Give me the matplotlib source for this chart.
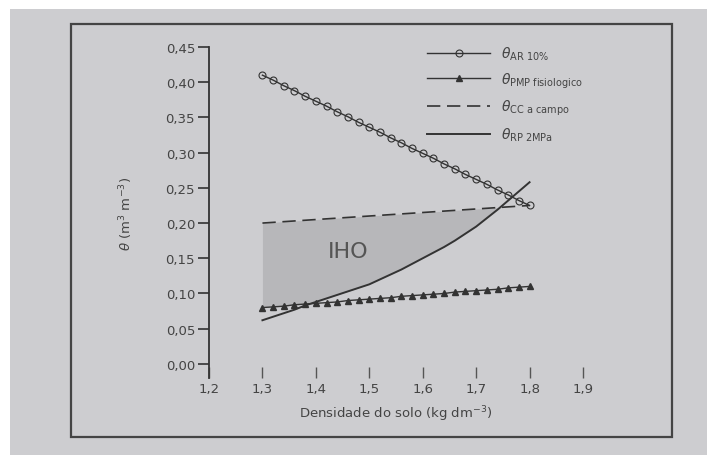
import numpy as np
import matplotlib
matplotlib.use('Agg')
import matplotlib.pyplot as plt
from matplotlib.patches import Rectangle

# soil bulk density (kg dm-3)
dens = [1.30, 1.32, 1.34, 1.36, 1.38, 1.40, 1.42, 1.44, 1.46, 1.48, 1.50, 1.52, 1.54,
        1.56, 1.58, 1.60, 1.62, 1.64, 1.66, 1.68, 1.70, 1.72, 1.74, 1.76, 1.78, 1.80]
# water content limits (m3 m-3)
ar10 = [0.410, 0.403, 0.395, 0.388, 0.380, 0.373, 0.366, 0.358, 0.351, 0.343, 0.336, 0.329, 0.321,
        0.314, 0.306, 0.299, 0.292, 0.284, 0.277, 0.269, 0.262, 0.255, 0.247, 0.240, 0.232, 0.225]
pmp = [0.080, 0.081, 0.082, 0.084, 0.085, 0.086, 0.087, 0.088, 0.090, 0.091, 0.092, 0.093, 0.094,
       0.096, 0.097, 0.098, 0.099, 0.100, 0.102, 0.103, 0.104, 0.105, 0.106, 0.108, 0.109, 0.110]
cc = [0.200, 0.201, 0.202, 0.203, 0.204, 0.205, 0.206, 0.207, 0.208, 0.209, 0.210, 0.211, 0.212,
      0.213, 0.214, 0.215, 0.216, 0.217, 0.218, 0.219, 0.220, 0.221, 0.222, 0.223, 0.224, 0.225]
rp = [0.062, 0.067, 0.072, 0.077, 0.083, 0.088, 0.093, 0.098, 0.103, 0.108, 0.113, 0.120, 0.127,
      0.134, 0.142, 0.150, 0.158, 0.166, 0.175, 0.185, 0.195, 0.207, 0.219, 0.232, 0.245, 0.258]

xticks = [1.2, 1.3, 1.4, 1.5, 1.6, 1.7, 1.8, 1.9]
xticklabels = ['1,2', '1,3', '1,4', '1,5', '1,6', '1,7', '1,8', '1,9']
yticks = [0.00, 0.05, 0.10, 0.15, 0.20, 0.25, 0.30, 0.35, 0.40, 0.45]
yticklabels = ['0,00', '0,05', '0,10', '0,15', '0,20', '0,25', '0,30', '0,35', '0,40', '0,45']

ink = '#333333'
paper = '#cdcdd0'

fig = plt.figure(figsize=(7.07, 4.56), dpi=100, facecolor='white')
# photo background and printed frame
fig.patches.append(Rectangle((10/707, 0), 1, 1 - 10/456, transform=fig.transFigure,
                             facecolor=paper, edgecolor='none', zorder=-10))
fig.patches.append(Rectangle((71/707, 1 - 438/456), (672-71)/707, (438-25)/456,
                             transform=fig.transFigure, facecolor='none',
                             edgecolor='#444444', lw=1.6, zorder=-5))

ax = fig.add_axes([209/707, 1 - 379/456, 374/707, (379-48)/456])
ax.set_facecolor('none')

lower = np.maximum(pmp, rp)
ax.fill_between(dens, lower, cc, where=np.array(cc) >= lower, interpolate=True,
                color='#b7b7ba', lw=0, zorder=1)

ax.plot(dens, ar10, color=ink, lw=1.0, marker='o', ms=5, mfc='none', mew=0.8,
        label=r'$\theta_{\mathrm{AR\ 10\%}}$', zorder=3)
ax.plot(dens, pmp, color=ink, lw=1.0, marker='^', ms=4.5, label=r'$\theta_{\mathrm{PMP\ fisiologico}}$', zorder=3)
ax.plot([dens[0], dens[-1]], [cc[0], cc[-1]], color=ink, lw=1.2, ls=(0, (8, 4)),
        label=r'$\theta_{\mathrm{CC\ a\ campo}}$', zorder=3)
ax.plot(dens, rp, color=ink, lw=1.4, label=r'$\theta_{\mathrm{RP\ 2MPa}}$', zorder=3)

ax.text(1.46, 0.16, 'IHO', fontsize=16, color='#555555', ha='center', va='center', zorder=4)

ax.set_xlim(1.2, 1.9)
ax.set_ylim(-0.02, 0.45)
ax.set_xticks(xticks)
ax.set_xticklabels(xticklabels)
ax.set_yticks(yticks)
ax.set_yticklabels(yticklabels)
for s in ['top', 'right', 'bottom']:
    ax.spines[s].set_visible(False)
ax.spines['left'].set_color(ink)
ax.spines['left'].set_linewidth(1.3)
ax.tick_params(axis='y', direction='out', length=8, width=1.2, color=ink, labelsize=9.5,
               labelcolor='#444444', pad=2)
ax.tick_params(axis='x', direction='in', length=8, width=1.0, color='#555555', labelsize=9.5,
               labelcolor='#444444', pad=3)

ax.set_xlabel('Densidade do solo (kg dm$^{-3}$)', fontsize=9.5, color='#444444', labelpad=6)
ax.set_ylabel(r'$\theta$ (m$^3$ m$^{-3}$)', fontsize=9.5, color='#444444', labelpad=22)

fig.legend(loc='upper left', bbox_to_anchor=(415/707, 1 - 33/456), frameon=False,
           fontsize=10, handlelength=4.5, labelspacing=0.6, labelcolor='#444444')

plt.savefig('out.png', dpi=100, facecolor='white')
